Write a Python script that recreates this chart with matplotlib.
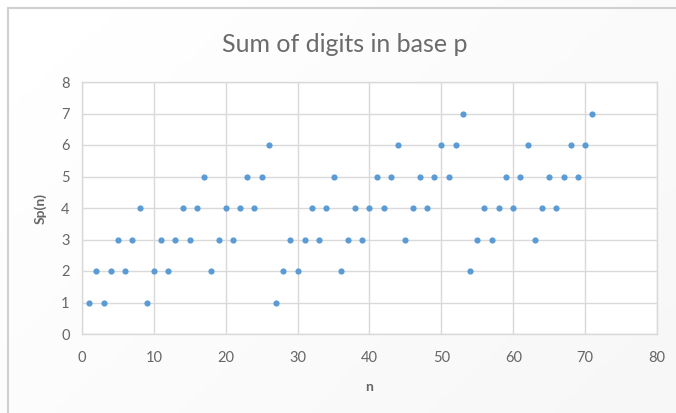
import numpy as np
import matplotlib
matplotlib.use('Agg')
import matplotlib.pyplot as plt
from matplotlib.patches import Rectangle

plt.rcParams['font.family'] = ['Lato', 'DejaVu Sans']

# values
n_values = list(range(1, 72))
sp_values = [1, 2, 1, 2, 3, 2, 3, 4, 1, 2, 3, 2, 3, 4, 3, 4, 5, 2, 3, 4,
             3, 4, 5, 4, 5, 6, 1, 2, 3, 2, 3, 4, 3, 4, 5, 2, 3, 4, 3, 4,
             5, 4, 5, 6, 3, 4, 5, 4, 5, 6, 5, 6, 7, 2, 3, 4, 3, 4, 5, 4,
             5, 6, 3, 4, 5, 4, 5, 6, 5, 6, 7]
x_ticks = [0, 10, 20, 30, 40, 50, 60, 70, 80]
y_ticks = [0, 1, 2, 3, 4, 5, 6, 7, 8]

W, H = 676, 413
fig = plt.figure(figsize=(W / 100, H / 100), dpi=100)
fig.patch.set_facecolor('white')

# soft background gradient of the chart area
bg = fig.add_axes([0, 0, 1, 1], zorder=-10)
gx, gy = np.meshgrid(np.linspace(0, 1, 200), np.linspace(0, 1, 120))
grad = 1.0 - 0.035 * (gx * 0.6 + gy * 0.4)
bg.imshow(grad, cmap='gray', vmin=0, vmax=1, aspect='auto',
          extent=[0, 1, 0, 1], origin='upper')
bg.set_xlim(0, 1)
bg.set_ylim(0, 1)
bg.axis('off')

# chart border
fig.patches.append(Rectangle((8 / W, -0.05), 1.1, 1 - 8 / H + 0.05,
                             transform=fig.transFigure, fill=False,
                             edgecolor='#d0d0d0', linewidth=1.5))

ax = fig.add_axes([82 / W, 79 / H, (657 - 82) / W, (334 - 82) / H])
ax.set_facecolor('white')
ax.scatter(n_values, sp_values, s=20, color='#5B9BD5', zorder=3, linewidths=0)

ax.set_xlim(0, 80)
ax.set_ylim(0, 8)
ax.set_xticks(x_ticks)
ax.set_yticks(y_ticks)
ax.grid(True, color='#d9d9d9', linewidth=1)
ax.set_axisbelow(True)
for sp in ax.spines.values():
    sp.set_color('#d9d9d9')
    sp.set_linewidth(1)
ax.tick_params(length=0, labelsize=10.5, colors='#666666')
ax.tick_params(axis='x', pad=12)
ax.tick_params(axis='y', pad=9)

ax.set_xlabel('n', fontsize=10, fontweight='bold', color='#666666', labelpad=12)
ax.set_ylabel('Sp(n)', fontsize=10, fontweight='bold', color='#666666', labelpad=10)

fig.text(345 / W, 1 - 45 / H, 'Sum of digits in base p', ha='center', va='center',
         fontsize=18, color='#6b6b6b')

fig.savefig('out.png', dpi=100)
